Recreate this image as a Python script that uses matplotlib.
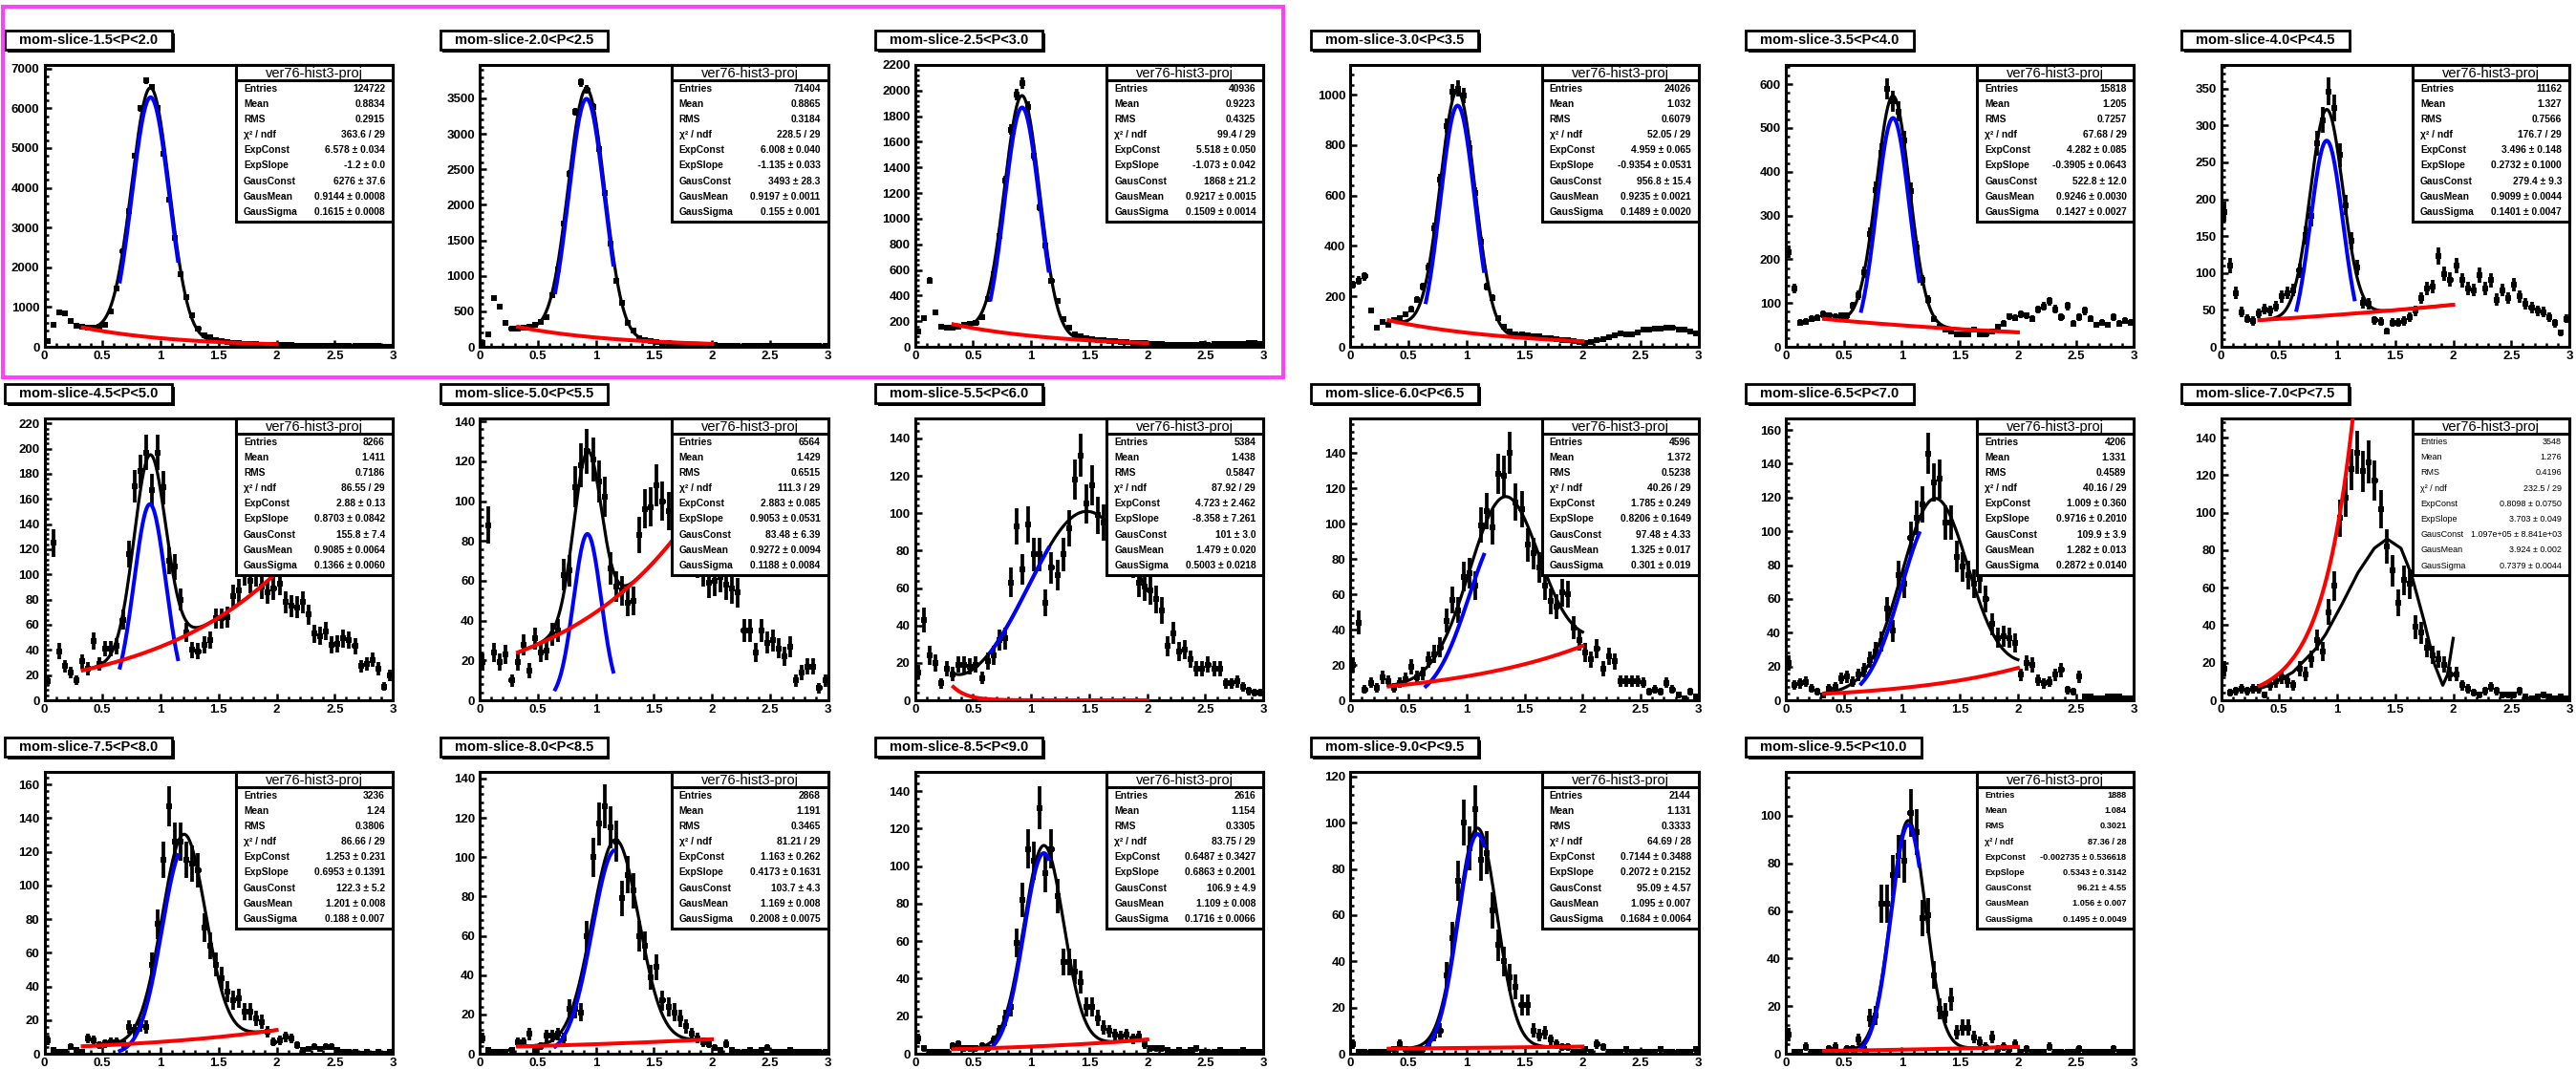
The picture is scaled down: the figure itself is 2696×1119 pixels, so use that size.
import numpy as np
import matplotlib
matplotlib.use("Agg")
import matplotlib.pyplot as plt
from matplotlib.patches import Rectangle
from matplotlib.transforms import Affine2D
from matplotlib.ticker import MultipleLocator, FuncFormatter

plt.rcParams['font.family'] = ['Liberation Sans', 'DejaVu Sans']
plt.rcParams['font.weight'] = 'bold'

# ---------------- data ----------------
titles = ["mom-slice-1.5<P<2.0", "mom-slice-2.0<P<2.5", "mom-slice-2.5<P<3.0",
          "mom-slice-3.0<P<3.5", "mom-slice-3.5<P<4.0", "mom-slice-4.0<P<4.5",
          "mom-slice-4.5<P<5.0", "mom-slice-5.0<P<5.5", "mom-slice-5.5<P<6.0",
          "mom-slice-6.0<P<6.5", "mom-slice-6.5<P<7.0", "mom-slice-7.0<P<7.5",
          "mom-slice-7.5<P<8.0", "mom-slice-8.0<P<8.5", "mom-slice-8.5<P<9.0",
          "mom-slice-9.0<P<9.5", "mom-slice-9.5<P<10.0"]

entries = ["124722", "71404", "40936", "24026", "15818", "11162", "8266", "6564", "5384",
           "4596", "4206", "3548", "3236", "2868", "2616", "2144", "1888"]
means = ["0.8834", "0.8865", "0.9223", "1.032", "1.205", "1.327", "1.411", "1.429", "1.438",
         "1.372", "1.331", "1.276", "1.24", "1.191", "1.154", "1.131", "1.084"]
rms_vals = ["0.2915", "0.3184", "0.4325", "0.6079", "0.7257", "0.7566", "0.7186", "0.6515", "0.5847",
            "0.5238", "0.4589", "0.4196", "0.3806", "0.3465", "0.3305", "0.3333", "0.3021"]
chi2_ndf = ["363.6 / 29", "228.5 / 29", "99.4 / 29", "52.05 / 29", "67.68 / 29", "176.7 / 29",
            "86.55 / 29", "111.3 / 29", "87.92 / 29", "40.26 / 29", "40.16 / 29", "232.5 / 29",
            "86.66 / 29", "81.21 / 29", "83.75 / 29", "64.69 / 28", "87.36 / 28"]
exp_const = ["6.578", "6.008", "5.518", "4.959", "4.282", "3.496", "2.88", "2.883", "4.723",
             "1.785", "1.009", "0.8098", "1.253", "1.163", "0.6487", "0.7144", "-0.002735"]
exp_const_err = ["0.034", "0.040", "0.050", "0.065", "0.085", "0.148", "0.13", "0.085", "2.462",
                 "0.249", "0.360", "0.0750", "0.231", "0.262", "0.3427", "0.3488", "0.536618"]
exp_slope = ["-1.2", "-1.135", "-1.073", "-0.9354", "-0.3905", "0.2732", "0.8703", "0.9053", "-8.358",
             "0.8206", "0.9716", "3.703", "0.6953", "0.4173", "0.6863", "0.2072", "0.5343"]
exp_slope_err = ["0.0", "0.033", "0.042", "0.0531", "0.0643", "0.1000", "0.0842", "0.0531", "7.261",
                 "0.1649", "0.2010", "0.049", "0.1391", "0.1631", "0.2001", "0.2152", "0.3142"]
gaus_const = ["6276", "3493", "1868", "956.8", "522.8", "279.4", "155.8", "83.48", "101",
              "97.48", "109.9", "1.097e+05", "122.3", "103.7", "106.9", "95.09", "96.21"]
gaus_const_err = ["37.6", "28.3", "21.2", "15.4", "12.0", "9.3", "7.4", "6.39", "3.0",
                  "4.33", "3.9", "8.841e+03", "5.2", "4.3", "4.9", "4.57", "4.55"]
gaus_mean = ["0.9144", "0.9197", "0.9217", "0.9235", "0.9246", "0.9099", "0.9085", "0.9272", "1.479",
             "1.325", "1.282", "3.924", "1.201", "1.169", "1.109", "1.095", "1.056"]
gaus_mean_err = ["0.0008", "0.0011", "0.0015", "0.0021", "0.0030", "0.0044", "0.0064", "0.0094", "0.020",
                 "0.017", "0.013", "0.002", "0.008", "0.008", "0.008", "0.007", "0.007"]
gaus_sigma = ["0.1615", "0.155", "0.1509", "0.1489", "0.1427", "0.1401", "0.1366", "0.1188", "0.5003",
              "0.301", "0.2872", "0.7379", "0.188", "0.2008", "0.1716", "0.1684", "0.1495"]
gaus_sigma_err = ["0.0008", "0.001", "0.0014", "0.0020", "0.0027", "0.0047", "0.0060", "0.0084", "0.0218",
                  "0.019", "0.0140", "0.0044", "0.007", "0.0075", "0.0066", "0.0064", "0.0049"]

# y-axis range (top) and major tick step per panel
y_top = [7090, 3970, 2200, 1118, 644, 382, 224, 141.5, 150.7, 159.5, 166.8, 150.2,
         167.4, 143.4, 150.2, 122, 118.4]
y_step = [1000, 500, 200, 200, 100, 50, 20, 20, 20, 20, 20, 20, 20, 20, 20, 20, 20]

# histogram contents, 60 bins from 0 to 3
h_1p5 = [140, 560, 870, 830, 640, 520, 500, 480, 490, 510, 560, 890, 1470, 2400, 3420, 4810, 6000, 6700,
         6540, 6010, 4860, 3700, 2730, 1820, 1255, 800, 460, 300, 235, 180, 140, 120, 105, 90, 80, 72,
         65, 58, 52, 48, 44, 40, 37, 34, 31, 29, 27, 25, 23, 22, 20, 19, 18, 17, 16, 15, 14, 13, 12, 11]
h_2p0 = [60, 180, 680, 560, 330, 262, 262, 275, 283, 305, 350, 417, 731, 1090, 1741, 2436, 3311, 3724,
         3625, 3378, 2782, 2167, 1449, 933, 619, 330, 224, 126, 99, 80, 70, 60, 52, 46, 40, 36, 33, 30,
         27, 25, 22, 20, 19, 18, 17, 15, 14, 14, 13, 12, 12, 11, 10, 10, 9, 9, 8, 8, 8, 7]
h_2p5 = [120, 224, 518, 269, 157, 150, 152, 160, 170, 182, 190, 232, 374, 568, 867, 1298, 1694, 1968,
         2057, 1875, 1490, 1091, 787, 513, 356, 219, 150, 100, 82, 70, 62, 55, 50, 46, 42, 38, 35, 32,
         30, 27, 25, 22, 20, 18, 17, 15, 15, 16, 18, 20, 17, 19, 22, 20, 24, 25, 22, 28, 30, 26]
h_3p0 = [247, 263, 280, 143, 76, 99, 86, 105, 114, 130, 149, 187, 238, 314, 470, 662, 877, 1010,
         1025, 997, 789, 609, 415, 238, 194, 114, 80, 62, 50, 48, 45, 42, 40, 36, 33, 30, 28, 25, 22,
         18, 16, 20, 25, 30, 38, 45, 54, 50, 51, 58, 67, 70, 73, 72, 76, 74, 70, 68, 60, 54]
h_3p5 = [217, 133, 55, 57, 64, 66, 75, 71, 68, 71, 71, 93, 117, 170, 257, 359, 443, 589, 561, 538,
         472, 356, 228, 152, 108, 64, 46, 39, 34, 28, 28, 28, 39, 29, 28, 35, 46, 53, 69, 66, 75, 71,
         64, 85, 92, 104, 86, 68, 93, 53, 68, 82, 64, 50, 55, 50, 68, 53, 60, 55]
h_4p0 = [183, 110, 73, 47, 38, 35, 45, 51, 49, 55, 68, 73, 77, 103, 151, 177, 276, 307, 346, 324,
         260, 192, 144, 107, 60, 58, 36, 34, 21, 33, 33, 35, 40, 49, 66, 79, 81, 123, 99, 91, 110, 90,
         79, 77, 97, 79, 90, 64, 77, 66, 84, 68, 58, 53, 49, 47, 40, 32, 19, 38]
h_4p5 = [15, 125, 39, 27, 22, 16, 31, 25, 47, 29, 41, 41, 43, 64, 116, 170, 182, 197, 167, 197,
         169, 111, 106, 80, 54, 40, 39, 44, 48, 65, 65, 66, 83, 87, 101, 95, 100, 90, 86, 89, 93, 78,
         75, 74, 78, 68, 53, 51, 55, 44, 45, 49, 48, 43, 27, 29, 32, 25, 11, 20]
h_5p0 = [19, 88, 24, 19, 23, 10, 19, 28, 15, 31, 24, 25, 33, 35, 63, 65, 107, 118, 125, 121, 110,
         102, 66, 57, 55, 49, 50, 83, 96, 97, 108, 100, 95, 90, 85, 80, 75, 70, 65, 59, 60, 62, 58,
         56, 54, 35, 35, 24, 35, 29, 30, 26, 22, 27, 10, 14, 17, 17, 6, 10]
h_5p5 = [15, 43, 24, 20, 9, 17, 14, 19, 19, 18, 19, 12, 21, 24, 32, 33, 63, 93, 70, 94, 78, 78, 52,
         71, 67, 78, 92, 118, 131, 105, 115, 99, 95, 90, 85, 82, 78, 74, 63, 61, 59, 54, 48, 29, 36,
         26, 27, 22, 17, 17, 19, 17, 17, 9, 9, 10, 7, 5, 4, 4]
h_6p0 = [20, 44, 6, 10, 7, 13, 11, 7, 10, 12, 19, 13, 15, 23, 26, 30, 45, 57, 51, 70, 72, 65, 99,
         107, 98, 128, 127, 140, 112, 108, 88, 83, 75, 65, 56, 53, 61, 60, 41, 34, 27, 23, 29, 18, 25,
         22, 11, 11, 11, 11, 10, 5, 6, 5, 10, 6, 3, 1, 5, 2]
h_6p5 = [22, 9, 10, 11, 7, 5, 3, 7, 8, 13, 14, 11, 15, 18, 24, 29, 35, 54, 41, 74, 69, 96, 108, 116,
         146, 129, 131, 105, 105, 85, 79, 74, 69, 72, 60, 45, 37, 38, 37, 34, 15, 22, 21, 12, 10, 11,
         15, 18, 6, 5, 14, 2, 2, 1, 1, 2, 2, 2, 1, 1]
h_7p0 = [17, 4, 5, 6, 5, 6, 6, 3, 8, 10, 12, 10, 8, 17, 14, 22, 32, 26, 47, 61, 97, 108, 123, 132,
         122, 127, 117, 102, 82, 69, 52, 64, 62, 39, 36, 28, 24, 22, 19, 14, 14, 8, 6, 4, 3, 5, 7, 5,
         3, 3, 3, 5, 2, 1, 2, 3, 2, 1, 2, 1]
h_7p5 = [8, 2, 1, 1, 4, 2, 1, 9, 8, 5, 6, 7, 7, 6, 16, 14, 17, 16, 53, 77, 115, 147, 126, 126, 115,
         113, 109, 75, 64, 53, 45, 37, 32, 33, 25, 25, 21, 19, 13, 7, 8, 10, 9, 5, 2, 3, 4, 3, 4, 4,
         2, 1, 1, 1, 0, 1, 0, 1, 0, 1]
h_8p0 = [8, 2, 1, 1, 1, 2, 6, 6, 10, 2, 4, 9, 9, 10, 8, 23, 23, 21, 60, 100, 117, 126, 115, 108, 79,
         91, 83, 60, 55, 39, 44, 27, 24, 21, 18, 14, 10, 8, 6, 5, 3, 2, 5, 2, 1, 1, 2, 1, 2, 3, 1, 1,
         1, 2, 1, 1, 1, 1, 1, 1]
h_8p5 = [8, 3, 1, 1, 1, 1, 4, 5, 3, 3, 3, 4, 3, 7, 12, 19, 25, 59, 82, 109, 103, 131, 96, 109, 84,
         49, 49, 44, 38, 25, 25, 19, 14, 12, 10, 9, 10, 8, 9, 5, 3, 3, 3, 2, 1, 2, 1, 2, 3, 1, 1, 1,
         2, 1, 1, 1, 2, 1, 1, 1]
h_9p0 = [4, 1, 1, 1, 1, 1, 1, 2, 4, 2, 1, 1, 2, 4, 8, 10, 34, 50, 75, 100, 89, 106, 84, 87, 62, 47,
         40, 33, 29, 21, 21, 10, 8, 9, 6, 4, 3, 3, 1, 1, 2, 1, 4, 3, 1, 1, 1, 2, 1, 1, 1, 1, 1, 2, 1,
         1, 1, 1, 1, 2]
h_9p5 = [8, 1, 1, 3, 1, 1, 1, 2, 3, 1, 2, 2, 6, 2, 15, 16, 63, 63, 75, 83, 81, 101, 93, 57, 58, 33,
         19, 17, 23, 9, 11, 11, 7, 5, 3, 7, 2, 3, 2, 4, 1, 2, 1, 1, 1, 3, 1, 1, 1, 1, 2, 1, 1, 1, 1,
         1, 2, 1, 1, 1]

hists = [h_1p5, h_2p0, h_2p5, h_3p0, h_3p5, h_4p0, h_4p5, h_5p0, h_5p5,
         h_6p0, h_6p5, h_7p0, h_7p5, h_8p0, h_8p5, h_9p0, h_9p5]

# the total-fit curve of the 7.0<P<7.5 slice
black_p12_x = [0.32, 0.44, 0.62, 0.81, 0.90, 1.04, 1.18, 1.32, 1.43, 1.55, 1.64, 1.75, 1.84, 1.91, 1.95, 2.00]
black_p12_y = [6, 8.5, 15, 27, 35, 51, 68, 81, 86, 81, 67, 42, 19, 8, 13.5, 33]

fit_range = (0.33, 2.0)
gaus_range = (0.65, 1.15)

# ---------------- layout ----------------
W, H = 2696, 1119
fig = plt.figure(figsize=(W / 100, H / 100), dpi=100)
fig.patch.set_facecolor('white')
pix = Affine2D().scale(1.0 / W, -1.0 / H).translate(0, 1) + fig.transFigure
renderer = fig.canvas.get_renderer()

PAD_W, PAD_H = 455.6, 370.0
AX_L, AX_W, AX_T, AX_H = 46.5, 364.5, 68.0, 295.0
STAT_W, STAT_H, HEAD_H = 164.0, 164.0, 16.0

edges = np.linspace(0, 3, 61)
centers = 0.5 * (edges[:-1] + edges[1:])


def fmt_x(v, pos):
    return "%g" % v


def fmt_y(v, pos):
    return "%d" % round(v)


for i in range(17):
    r, c = divmod(i, 6)
    px = c * PAD_W
    x0 = px + AX_L
    y0 = AX_T + r * PAD_H
    ax = fig.add_axes([x0 / W, 1 - (y0 + AX_H) / H, AX_W / W, AX_H / H])

    vals = np.array(hists[i], dtype=float)
    ax.errorbar(centers, vals, xerr=0.025, yerr=np.sqrt(vals), fmt='s', ms=3.8,
                color='black', ecolor='black', elinewidth=2.7, capsize=0, mew=0, zorder=3)

    ec = float(exp_const[i]); es = float(exp_slope[i])
    gc = float(gaus_const[i]); gm = float(gaus_mean[i]); gs = float(gaus_sigma[i])
    xs = np.linspace(fit_range[0], fit_range[1], 400)
    bg = np.exp(ec + es * xs)
    if i == 11:
        ax.plot(black_p12_x, black_p12_y, color='black', lw=2.3, zorder=4)
    else:
        ax.plot(xs, bg + gc * np.exp(-0.5 * ((xs - gm) / gs) ** 2), color='black', lw=2.3, zorder=4)
        xb = np.linspace(gaus_range[0], gaus_range[1], 200)
        ax.plot(xb, gc * np.exp(-0.5 * ((xb - gm) / gs) ** 2), color='#0000ff', lw=2.9, zorder=5)
    ax.plot(xs, bg, color='#ff0000', lw=2.9, zorder=6)

    ax.set_xlim(0, 3)
    ax.set_ylim(0, y_top[i])
    ax.xaxis.set_major_locator(MultipleLocator(0.5))
    ax.xaxis.set_minor_locator(MultipleLocator(0.1))
    ax.yaxis.set_major_locator(MultipleLocator(y_step[i]))
    ax.yaxis.set_minor_locator(MultipleLocator(y_step[i] / 5.0))
    ax.xaxis.set_major_formatter(FuncFormatter(fmt_x))
    ax.yaxis.set_major_formatter(FuncFormatter(fmt_y))
    ax.tick_params(which='both', direction='in', top=False, right=False, width=1.8,
                   labelsize=9.5, colors='black')
    ax.tick_params(axis='y', which='both', pad=3.6)
    ax.tick_params(axis='x', which='both', pad=3.0)
    ax.tick_params(which='major', length=5.0)
    ax.tick_params(which='minor', length=2.8)
    for sp in ax.spines.values():
        sp.set_linewidth(2.2)
        sp.set_color('black')

    # ---- stats box ----
    bx1 = x0 + AX_W
    bx0 = bx1 - STAT_W
    fig.add_artist(Rectangle((bx0, y0), STAT_W, STAT_H, transform=pix, facecolor='white',
                             edgecolor='black', lw=2.2, zorder=10))
    fig.add_artist(Rectangle((bx0, y0), STAT_W, HEAD_H, transform=pix, facecolor='white',
                             edgecolor='black', lw=2.2, zorder=11))
    fig.text((bx0 + bx1) / 2, y0 + HEAD_H / 2 + 0.5, "ver76-hist3-proj", transform=pix,
             ha='center', va='center', fontsize=10.5, fontweight='normal', zorder=12)
    labels = ["Entries", "Mean", "RMS", "\u03c7\u00b2 / ndf", "ExpConst", "ExpSlope",
              "GausConst", "GausMean", "GausSigma"]
    values = [entries[i], means[i], rms_vals[i], chi2_ndf[i],
              exp_const[i] + " \u00b1 " + exp_const_err[i],
              exp_slope[i] + " \u00b1 " + exp_slope_err[i],
              gaus_const[i] + " \u00b1 " + gaus_const_err[i],
              gaus_mean[i] + " \u00b1 " + gaus_mean_err[i],
              gaus_sigma[i] + " \u00b1 " + gaus_sigma_err[i]]
    if i == 11:
        fs, fw = 6.5, 'normal'
    elif i == 16:
        fs, fw = 6.6, 'bold'
    else:
        fs, fw = 7.4, 'bold'
    for k in range(9):
        yy = y0 + 24.5 + 16.2 * k
        fig.text(bx0 + 8, yy, labels[k], transform=pix, ha='left', va='center',
                 fontsize=fs, fontweight=fw, zorder=12)
        fig.text(bx1 - 8, yy, values[k], transform=pix, ha='right', va='center',
                 fontsize=fs, fontweight=fw, zorder=12)

    # ---- title box ----
    t = fig.text(0, 0, titles[i], transform=pix, ha='center', va='center',
                 fontsize=10.5, fontweight='bold', zorder=12)
    tw = t.get_window_extent(renderer=renderer).width
    bw = tw + 30
    tb_left = px + 5
    tb_top = y0 - 36
    t.set_position((tb_left + bw / 2, tb_top + 10.5))
    fig.add_artist(Rectangle((tb_left + 2.5, tb_top + 2.5), bw, 20, transform=pix,
                             facecolor='black', edgecolor='black', lw=0, zorder=10))
    fig.add_artist(Rectangle((tb_left, tb_top), bw, 20, transform=pix, facecolor='white',
                             edgecolor='black', lw=2.0, zorder=11))

# magenta highlight frame
fig.add_artist(Rectangle((2.5, 7), 1340.5, 388, transform=pix, fill=False,
                         edgecolor='#ff40ff', lw=2.9, zorder=20))

fig.savefig("out.png", dpi=100, facecolor='white')
